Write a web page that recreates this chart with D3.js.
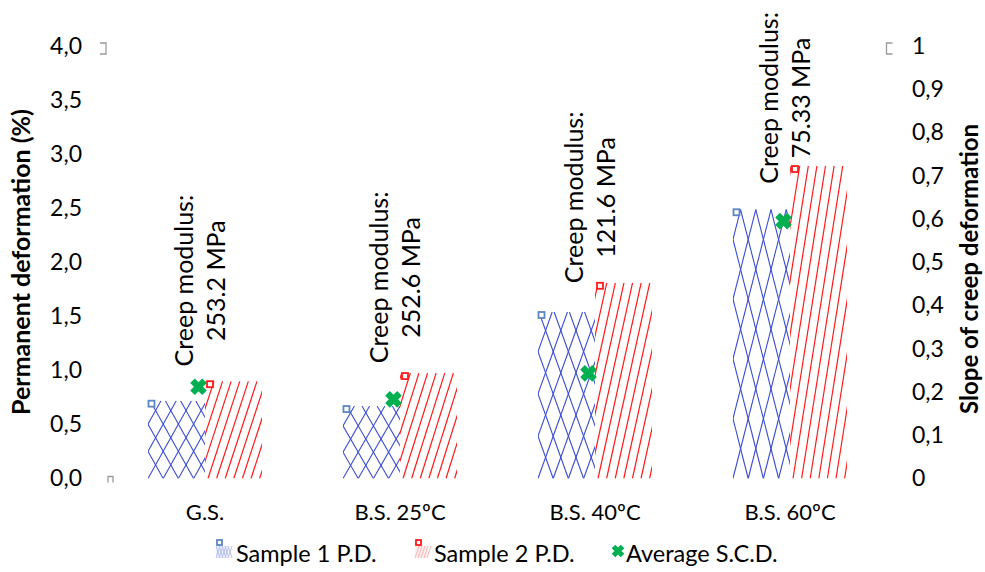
<!DOCTYPE html>
<html>
<head>
<meta charset="utf-8">
<script src="https://cdn.jsdelivr.net/npm/d3@7/dist/d3.min.js"></script>
<style>
  html, body { margin: 0; padding: 0; background: #fff; }
  svg { display: block; font-family: Lato, "Open Sans", sans-serif; }
</style>
</head>
<body>
<svg id="chart" width="985" height="572"></svg>
<script>
// ---------- data ----------
const categories = ["G.S.", "B.S. 25ºC", "B.S. 40ºC", "B.S. 60ºC"];
const sample1PD = [0.72, 0.67, 1.54, 2.49];      // Permanent deformation (%) – Sample 1
const sample2PD = [0.90, 0.975, 1.81, 2.89];     // Permanent deformation (%) – Sample 2
const averageSCD = [0.212, 0.183, 0.243, 0.595]; // Slope of creep deformation (right axis)
const creepModulus = ["253.2", "252.6", "121.6", "75.33"]; // MPa
const leftTicks = [0, 0.5, 1, 1.5, 2, 2.5, 3, 3.5, 4];
const rightTicks = [0, 0.1, 0.2, 0.3, 0.4, 0.5, 0.6, 0.7, 0.8, 0.9, 1];
const seriesNames = ["Sample 1 P.D.", "Sample 2 P.D.", "Average S.C.D."];

// ---------- layout ----------
const labelAt = [1.83, 1.86, 2.60, 3.52]; // annotation centres (left-axis units)
const plot = { left: 107.5, right: 887.5, top: 46, bottom: 478.5 };
const BLUE = "#3a4cd4", RED = "#ff1a1a", GREEN = "#00b050", MARK_BLUE = "#5b86c4";

const svg = d3.select("#chart");
const fmt = d3.formatLocale({ decimal: ",", thousands: ".", grouping: [3], currency: ["", ""] });

const x = d3.scaleBand().domain(categories).range([plot.left, plot.right]).padding(0);
const xs = d3.scaleBand().domain(["s1", "s2"]).range([0, x.bandwidth()]).paddingInner(0).paddingOuter(0.71);
const yL = d3.scaleLinear().domain([0, 4]).range([plot.bottom, plot.top]);
const yR = d3.scaleLinear().domain([0, 1]).range([plot.bottom, plot.top]);

// ---------- axes ----------
const axL = svg.append("g").attr("transform", `translate(82,0)`)
  .call(d3.axisLeft(yL).tickValues(leftTicks).tickSize(0).tickPadding(0).tickFormat(fmt.format(".1f")));
const axR = svg.append("g").attr("transform", `translate(912,0)`)
  .call(d3.axisRight(yR).tickValues(rightTicks).tickSize(0).tickPadding(0).tickFormat(fmt.format(".1~f")));
[axL, axR].forEach(a => {
  a.select(".domain").remove();
  a.selectAll("text").attr("font-family", "Lato, sans-serif").attr("font-size", 23).attr("fill", "#000");
});

const axX = svg.append("g").attr("transform", `translate(0,${plot.bottom})`)
  .call(d3.axisBottom(x).tickSize(0).tickPadding(0));
axX.select(".domain").remove();
axX.selectAll("text").attr("font-family", "Lato, sans-serif").attr("font-size", 22).attr("fill", "#000")
  .attr("dy", 0).attr("y", 41);

// axis titles
svg.append("text").attr("transform", `translate(30,262) rotate(-90)`)
  .attr("text-anchor", "middle").attr("font-weight", "bold").attr("font-size", 25)
  .text("Permanent deformation (%)");
svg.append("text").attr("transform", `translate(978,269) rotate(-90)`)
  .attr("text-anchor", "middle").attr("font-weight", "bold").attr("font-size", 24)
  .text("Slope of creep deformation");

// faint corner marks
const marks = svg.append("g").attr("fill", "none").attr("stroke", "#9a9a9a").attr("stroke-width", 1.3);
marks.append("path").attr("d", `M100,${plot.top-3}H106V${plot.top+8}H100`);
marks.append("path").attr("d", `M${plot.right+5},${plot.top-3}H${plot.right-1}V${plot.top+8}H${plot.right+5}`);
marks.append("path").attr("d", `M108,${plot.bottom+4}V${plot.bottom-2}H113V${plot.bottom+4}`);

// ---------- bars with stretched hatch ----------
const defs = svg.append("defs");
const bars = [];
categories.forEach((c, i) => {
  bars.push({ cat: c, key: "s1", v: sample1PD[i], i });
  bars.push({ cat: c, key: "s2", v: sample2PD[i], i });
});

bars.forEach((b, j) => {
  const x0 = x(b.cat) + xs(b.key), w = xs.bandwidth();
  const top = yL(b.v), bot = yL(0), h = bot - top;
  const id = "clip" + j;
  defs.append("clipPath").attr("id", id).append("rect")
    .attr("x", x0).attr("y", top).attr("width", w).attr("height", h);
  const g = svg.append("g").attr("clip-path", `url(#${id})`);
  const lines = [];
  if (b.key === "s1") {
    const P = w / 3.75;                 // horizontal period
    const V = 14 + 0.17 * h;            // diamond height (stretched)
    const s = P / V;                    // dx per dy
    for (let k = -16; k <= 16; k++) {
      const cx = x0 + k * P;
      lines.push([cx, bot, cx + s * h, top]);
      lines.push([cx, bot, cx - s * h, top]);
    }
    g.selectAll("line").data(lines).join("line")
      .attr("x1", d => d[0]).attr("y1", d => d[1]).attr("x2", d => d[2]).attr("y2", d => d[3])
      .attr("stroke", BLUE).attr("stroke-width", 1.1);
  } else {
    const P = 8.6;
    const slope = 1.6 + 0.015 * h;      // dy per dx
    const dx = h / slope;
    for (let k = -20; k <= 12; k++) {
      const cx = x0 + 3 + k * P;
      lines.push([cx, bot, cx + dx, top]);
    }
    g.selectAll("line").data(lines).join("line")
      .attr("x1", d => d[0]).attr("y1", d => d[1]).attr("x2", d => d[2]).attr("y2", d => d[3])
      .attr("stroke", RED).attr("stroke-width", 1.2);
  }
  // square marker at top-left corner
  svg.append("rect")
    .attr("x", x0 + (b.key === "s1" ? 0.5 : 2)).attr("y", top)
    .attr("width", 6).attr("height", 6)
    .attr("fill", "#fff")
    .attr("stroke", b.key === "s1" ? MARK_BLUE : RED).attr("stroke-width", 1.8);
});

// ---------- average S.C.D. markers ----------
const xMark = c => x(c) + x.bandwidth() / 2 - 6.5;
svg.append("g").selectAll("path").data(categories).join("path")
  .attr("transform", (c, i) => `translate(${xMark(c)},${yR(averageSCD[i])})`)
  .attr("d", "M-6,-6L6,6M-6,6L6,-6")
  .attr("stroke", GREEN).attr("stroke-width", 6.5).attr("fill", "none");

// ---------- annotations ----------
categories.forEach((c, i) => {
  const cx = xMark(c), cy = yL(labelAt[i]);
  const t = svg.append("g").attr("font-size", 25).attr("text-anchor", "middle");
  t.append("text").attr("transform", `translate(${cx - 16},${cy}) rotate(-90)`)
    .attr("dominant-baseline", "central").text("Creep modulus:");
  t.append("text").attr("transform", `translate(${cx + 16},${cy}) rotate(-90)`)
    .attr("dominant-baseline", "central").text(creepModulus[i] + " MPa");
});

// ---------- legend ----------
const lg = svg.append("g").attr("font-size", 23.5);
const legendX = [216, 415, 612], textX = [236, 434, 626], ly = 553;
seriesNames.forEach((n, i) => {
  const gx = legendX[i];
  if (i < 2) {
    const col = i === 0 ? "#b8c0ef" : "#ffb0b0";
    const sw = lg.append("g");
    sw.append("rect").attr("x", gx).attr("y", ly - 7).attr("width", 12).attr("height", 12)
      .attr("fill", i === 0 ? "#eef0fb" : "#fff0f0");
    for (let k = 0; k < 5; k++) {
      sw.append("line").attr("x1", gx + k * 3).attr("y1", ly + 5).attr("x2", gx + k * 3 + 4).attr("y2", ly - 7)
        .attr("stroke", col).attr("stroke-width", 1);
      if (i === 0) sw.append("line").attr("x1", gx + k * 3 + 4).attr("y1", ly + 5).attr("x2", gx + k * 3).attr("y2", ly - 7)
        .attr("stroke", col).attr("stroke-width", 1);
    }
    lg.append("rect").attr("x", gx + 1).attr("y", ly - 13).attr("width", 5).attr("height", 5)
      .attr("fill", "#fff").attr("stroke", i === 0 ? MARK_BLUE : RED).attr("stroke-width", 1.8);
  } else {
    lg.append("path").attr("transform", `translate(${gx + 6},${ly - 2})`)
      .attr("d", "M-4.5,-4.5L4.5,4.5M-4.5,4.5L4.5,-4.5")
      .attr("stroke", GREEN).attr("stroke-width", 5).attr("fill", "none");
  }
  lg.append("text").attr("x", textX[i]).attr("y", ly).attr("dominant-baseline", "central").text(n);
});
</script>
</body>
</html>
